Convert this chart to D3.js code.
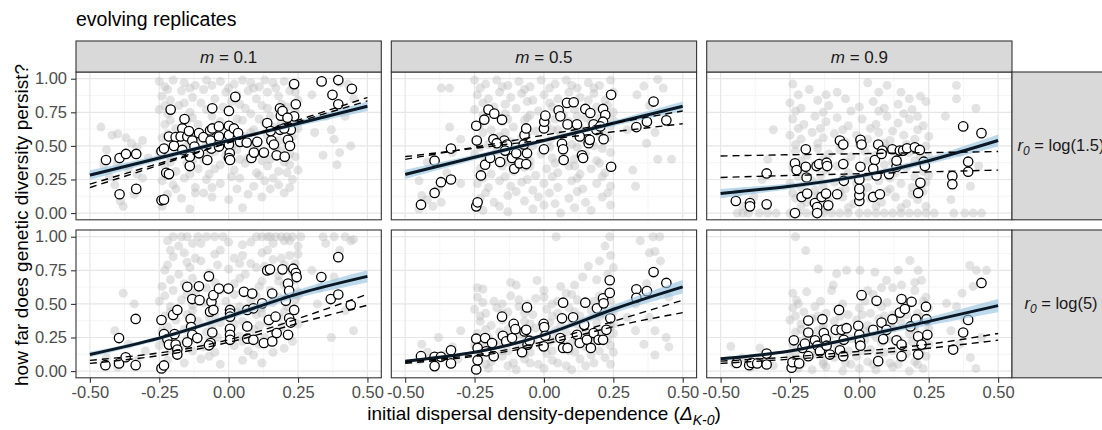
<!DOCTYPE html>
<html><head><meta charset="utf-8">
<script src="https://cdn.jsdelivr.net/npm/d3@7/dist/d3.min.js"></script>
<style>body{margin:0;background:#fff}</style>
</head><body>
<script>
// ---------- DATA ----------
const titleText = "evolving replicates";
const yTitle = "how far does genetic diversity persist?";
const xTitleMain = "initial dispersal density-dependence ";
const colLabels = ["0.1", "0.5", "0.9"];          // m
const rowLabels = ["log(1.5)", "log(5)"];          // r0
const xTicks = [-0.5, -0.25, 0, 0.25, 0.5];
const yTicks = [0, 0.25, 0.5, 0.75, 1];
const xMinor = [-0.375, -0.125, 0.125, 0.375];
const yMinor = [0.125, 0.375, 0.625, 0.875];
const fitX = [-0.5, -0.25, 0, 0.25, 0.5];

// fitted (solid) line, ribbon half-width, two dashed reference lines, per panel (row r, col m)
const fit_11 = [0.283, 0.41, 0.54, 0.667, 0.795];
const band_11 = [0.035, 0.02, 0.015, 0.02, 0.035];
const dashA_11 = [0.19, 0.357, 0.525, 0.692, 0.86];
const dashB_11 = [0.215, 0.37, 0.525, 0.68, 0.835];

const fit_12 = [0.288, 0.415, 0.54, 0.668, 0.795];
const band_12 = [0.035, 0.02, 0.015, 0.02, 0.035];
const dashA_12 = [0.40, 0.49, 0.58, 0.67, 0.76];
const dashB_12 = [0.42, 0.482, 0.545, 0.605, 0.665];

const fit_13 = [0.145, 0.20, 0.275, 0.39, 0.54];
const band_13 = [0.035, 0.02, 0.015, 0.025, 0.045];
const dashA_13 = [0.425, 0.434, 0.442, 0.45, 0.458];
const dashB_13 = [0.265, 0.28, 0.293, 0.307, 0.32];

const fit_21 = [0.123, 0.245, 0.405, 0.575, 0.705];
const band_21 = [0.02, 0.015, 0.02, 0.03, 0.045];
const dashA_21 = [0.08, 0.135, 0.233, 0.39, 0.572];
const dashB_21 = [0.057, 0.115, 0.214, 0.355, 0.49];

const fit_22 = [0.074, 0.14, 0.27, 0.46, 0.627];
const band_22 = [0.01, 0.01, 0.015, 0.03, 0.05];
const dashA_22 = [0.066, 0.12, 0.22, 0.37, 0.528];
const dashB_22 = [0.057, 0.11, 0.2, 0.33, 0.435];

const fit_23 = [0.091, 0.15, 0.255, 0.37, 0.487];
const band_23 = [0.012, 0.01, 0.015, 0.03, 0.05];
const dashA_23 = [0.074, 0.105, 0.147, 0.2, 0.28];
const dashB_23 = [0.057, 0.088, 0.123, 0.17, 0.23];

// open circles (evolving replicates)
const open_11 = [[-0.442,0.395],[-0.393,0.41],[-0.37,0.44],[-0.333,0.44],[-0.393,0.14],[-0.333,0.18],[-0.242,0.095],[-0.233,0.10],[-0.242,0.46],[-0.233,0.48],[-0.215,0.57],[-0.209,0.77],[-0.225,0.30],[-0.215,0.29],[-0.191,0.565],[-0.197,0.50],[-0.159,0.70],[-0.167,0.63],[-0.173,0.57],[-0.149,0.57],[-0.143,0.61],[-0.14,0.42],[-0.14,0.35],[-0.167,0.47],[-0.107,0.595],[-0.131,0.54],[-0.123,0.495],[-0.107,0.445],[-0.077,0.395],[-0.091,0.565],[-0.059,0.78],[-0.067,0.615],[-0.059,0.63],[-0.065,0.54],[-0.062,0.48],[-0.035,0.645],[-0.035,0.57],[-0.035,0.495],[0.001,0.76],[0.001,0.65],[0.001,0.58],[0.001,0.51],[0.004,0.445],[0.001,0.41],[0.005,0.395],[0.024,0.865],[0.019,0.63],[0.034,0.595],[0.041,0.53],[0.065,0.525],[0.082,0.41],[0.091,0.45],[0.127,0.45],[0.103,0.53],[0.139,0.67],[0.151,0.61],[0.154,0.54],[0.163,0.51],[0.173,0.43],[0.202,0.42],[0.185,0.78],[0.188,0.725],[0.194,0.76],[0.185,0.62],[0.214,0.545],[0.221,0.50],[0.224,0.62],[0.236,0.96],[0.242,0.81],[0.236,0.72],[0.212,0.71],[0.2,0.63],[0.335,0.98],[0.395,0.99],[0.374,0.88],[0.395,0.81],[0.444,0.925]];
const open_12 = [[-0.443,0.0625],[-0.394,0.15],[-0.371,0.23],[-0.335,0.25],[-0.394,0.39],[-0.335,0.48],[-0.244,0.05],[-0.239,0.08],[-0.242,0.54],[-0.244,0.65],[-0.215,0.695],[-0.2,0.77],[-0.179,0.74],[-0.151,0.695],[-0.227,0.28],[-0.212,0.36],[-0.194,0.41],[-0.182,0.55],[-0.158,0.38],[-0.143,0.54],[-0.133,0.51],[-0.115,0.41],[-0.107,0.33],[-0.088,0.37],[-0.064,0.365],[-0.061,0.445],[-0.073,0.51],[-0.07,0.58],[-0.064,0.63],[0.0,0.475],[0.0,0.63],[0.001,0.68],[0.005,0.725],[0.065,0.515],[0.069,0.475],[0.071,0.395],[0.053,0.765],[0.059,0.72],[0.083,0.82],[0.107,0.825],[0.085,0.66],[0.119,0.66],[0.129,0.57],[0.137,0.43],[0.141,0.41],[0.149,0.775],[0.167,0.745],[0.161,0.52],[0.165,0.545],[0.179,0.66],[0.189,0.62],[0.213,0.775],[0.221,0.73],[0.213,0.68],[0.215,0.55],[0.242,0.88],[0.242,0.345],[0.333,0.64],[0.371,0.68],[0.395,0.83],[0.441,0.69],[0.203,0.645],[-0.17,0.52],[-0.1,0.445],[-0.14,0.465]];
const open_13 = [[-0.445,0.09],[-0.394,0.075],[-0.394,0.05],[-0.334,0.065],[-0.334,0.295],[-0.232,0.0],[-0.232,0.37],[-0.226,0.32],[-0.193,0.475],[-0.193,0.345],[-0.208,0.12],[-0.188,0.145],[-0.19,0.265],[-0.16,0.075],[-0.152,0.045],[-0.152,0.0],[-0.136,0.12],[-0.12,0.145],[-0.112,0.0575],[-0.154,0.35],[-0.145,0.365],[-0.118,0.375],[-0.116,0.35],[-0.08,0.14],[-0.07,0.54],[-0.058,0.51],[-0.058,0.365],[-0.056,0.24],[0.0,0.09],[0.0,0.1325],[0.0,0.18],[0.0,0.25],[0.004,0.345],[0.004,0.545],[0.008,0.51],[0.05,0.12],[0.074,0.14],[0.062,0.28],[0.056,0.395],[0.068,0.51],[0.083,0.465],[0.107,0.29],[0.119,0.475],[0.134,0.345],[0.146,0.465],[0.158,0.465],[0.172,0.4825],[0.2,0.49],[0.218,0.47],[0.212,0.15],[0.22,0.225],[0.232,0.3825],[0.236,0.35],[0.335,0.275],[0.335,0.215],[0.392,0.3825],[0.392,0.3075],[0.374,0.645],[0.44,0.595],[0.134,0.39],[0.05,0.33],[0.08,0.44]];
const open_21 = [[-0.444,0.044],[-0.395,0.057],[-0.395,0.246],[-0.371,0.103],[-0.335,0.044],[-0.335,0.388],[-0.242,0.02],[-0.233,0.042],[-0.242,0.38],[-0.233,0.275],[-0.221,0.238],[-0.215,0.197],[-0.2,0.418],[-0.185,0.455],[-0.191,0.197],[-0.185,0.16],[-0.185,0.123],[-0.195,0.275],[-0.149,0.627],[-0.131,0.536],[-0.105,0.528],[-0.107,0.631],[-0.137,0.388],[-0.135,0.327],[-0.131,0.27],[-0.149,0.214],[-0.113,0.246],[-0.071,0.705],[-0.067,0.442],[-0.062,0.516],[-0.055,0.565],[-0.055,0.455],[-0.059,0.287],[-0.065,0.209],[-0.071,0.192],[-0.035,0.614],[0.005,0.455],[0.005,0.43],[0.005,0.405],[0.005,0.314],[0.005,0.27],[0.005,0.233],[-0.001,0.614],[0.055,0.59],[0.067,0.455],[0.067,0.332],[0.067,0.241],[0.085,0.577],[0.089,0.467],[0.089,0.233],[0.121,0.504],[0.127,0.209],[0.139,0.749],[0.149,0.757],[0.145,0.381],[0.157,0.577],[0.157,0.221],[0.169,0.405],[0.173,0.283],[0.194,0.757],[0.206,0.523],[0.214,0.651],[0.218,0.597],[0.218,0.393],[0.214,0.27],[0.233,0.762],[0.242,0.73],[0.245,0.7],[0.236,0.455],[0.224,0.361],[0.334,0.7],[0.368,0.536],[0.395,0.57],[0.395,0.848],[0.44,0.491]];
const open_22 = [[-0.443,0.111],[-0.394,0.106],[-0.394,0.037],[-0.371,0.106],[-0.335,0.155],[-0.335,0.057],[-0.244,0.012],[-0.239,0.081],[-0.244,0.241],[-0.239,0.172],[-0.212,0.246],[-0.208,0.147],[-0.181,0.111],[-0.187,0.209],[-0.151,0.405],[-0.148,0.263],[-0.136,0.221],[-0.115,0.246],[-0.109,0.351],[-0.103,0.312],[-0.079,0.14],[-0.07,0.295],[-0.064,0.307],[-0.061,0.474],[-0.059,0.197],[-0.052,0.226],[-0.001,0.351],[0.001,0.327],[0.005,0.263],[-0.001,0.184],[0.069,0.509],[0.065,0.393],[0.059,0.246],[0.069,0.172],[0.085,0.172],[0.105,0.4],[0.119,0.27],[0.129,0.209],[0.149,0.509],[0.145,0.344],[0.155,0.233],[0.169,0.172],[0.179,0.283],[0.191,0.467],[0.197,0.233],[0.213,0.541],[0.215,0.504],[0.213,0.233],[0.225,0.307],[0.237,0.676],[0.237,0.582],[0.239,0.393],[0.333,0.609],[0.333,0.545],[0.371,0.595],[0.395,0.737],[0.441,0.656]];
const open_23 = [[-0.442,0.061],[-0.397,0.044],[-0.388,0.061],[-0.368,0.057],[-0.334,0.049],[-0.334,0.13],[-0.244,0.025],[-0.241,0.066],[-0.236,0.229],[-0.217,0.057],[-0.205,0.172],[-0.196,0.204],[-0.184,0.111],[-0.184,0.287],[-0.184,0.376],[-0.16,0.229],[-0.151,0.189],[-0.142,0.147],[-0.133,0.386],[-0.128,0.283],[-0.121,0.238],[-0.118,0.189],[-0.106,0.123],[-0.085,0.307],[-0.073,0.455],[-0.07,0.155],[-0.064,0.307],[-0.058,0.111],[-0.056,0.233],[-0.046,0.319],[-0.004,0.337],[0.0,0.27],[0.002,0.221],[0.004,0.189],[0.008,0.565],[0.062,0.523],[0.05,0.307],[0.068,0.074],[0.08,0.361],[0.086,0.238],[0.119,0.386],[0.134,0.229],[0.146,0.435],[0.152,0.536],[0.152,0.197],[0.152,0.111],[0.164,0.462],[0.188,0.516],[0.204,0.386],[0.212,0.258],[0.212,0.123],[0.224,0.197],[0.24,0.479],[0.242,0.386],[0.245,0.27],[0.338,0.16],[0.374,0.287],[0.392,0.381],[0.44,0.656],[0.184,0.332],[0.098,0.307]];

// background (all replicates) grey points
const bg_11 = [[-0.46,0.64],[-0.42,0.58],[-0.40,0.59],[-0.37,0.56],[-0.35,0.52],[-0.33,0.49],[-0.31,0.54],[-0.44,0.47],[-0.40,0.37],[-0.38,0.43],[-0.36,0.33],[-0.43,0.27],[-0.41,0.21],[-0.39,0.09],[-0.38,0.05],[-0.34,0.14],[-0.31,0.26],[-0.29,0.41],[-0.45,0.36],[-0.33,0.29],
[-0.25,0.98],[-0.23,0.94],[-0.2,0.99],[-0.16,0.97],[-0.12,0.95],[-0.08,0.99],[-0.03,0.98],[0.02,0.96],[0.05,0.99],[0.08,0.97],[0.11,0.94],[0.13,0.99],[0.16,0.97],[0.2,0.98],[0.23,0.95],
[-0.24,0.87],[-0.21,0.84],[-0.17,0.91],[-0.13,0.86],[-0.09,0.92],[-0.05,0.85],[-0.01,0.9],[0.03,0.88],[0.07,0.91],[0.1,0.85],[0.14,0.9],[0.18,0.87],[0.22,0.91],[0.25,0.84],
[-0.25,0.77],[-0.22,0.74],[-0.18,0.8],[-0.14,0.75],[-0.1,0.82],[-0.06,0.72],[-0.02,0.79],[0.04,0.81],[0.08,0.74],[0.12,0.8],[0.15,0.72],[0.19,0.81],[0.24,0.76],
[-0.23,0.66],[-0.19,0.63],[-0.15,0.69],[-0.11,0.66],[-0.07,0.62],[-0.03,0.68],[0.01,0.64],[0.05,0.69],[0.09,0.62],[0.13,0.67],[0.17,0.64],[0.21,0.69],[0.25,0.63],
[-0.24,0.56],[-0.2,0.52],[-0.16,0.58],[-0.12,0.54],[-0.08,0.51],[-0.04,0.58],[0.0,0.55],[0.06,0.57],[0.1,0.52],[0.14,0.58],[0.18,0.54],[0.23,0.57],
[-0.25,0.45],[-0.21,0.41],[-0.17,0.47],[-0.13,0.43],[-0.09,0.4],[-0.05,0.46],[-0.01,0.43],[0.03,0.47],[0.07,0.41],[0.11,0.45],[0.15,0.4],[0.19,0.46],[0.24,0.42],
[-0.23,0.35],[-0.19,0.31],[-0.15,0.37],[-0.11,0.33],[-0.07,0.29],[-0.03,0.36],[0.02,0.32],[0.06,0.37],[0.1,0.3],[0.14,0.35],[0.18,0.31],[0.22,0.36],
[-0.24,0.24],[-0.2,0.21],[-0.16,0.26],[-0.12,0.19],[-0.08,0.25],[-0.03,0.22],[0.04,0.26],[0.09,0.2],[0.13,0.24],[0.18,0.21],[0.23,0.25],
[-0.22,0.14],[-0.17,0.11],[-0.12,0.15],[-0.06,0.12],[0.0,0.1],[0.07,0.14],[0.12,0.12],[0.2,0.15],
[-0.24,0.05],[-0.14,0.03],[0.05,0.04],
[0.33,0.98],[0.4,0.97],[0.43,0.96],[0.35,0.72],[0.38,0.55],[0.37,0.62],[0.4,0.45],[0.39,0.36],[0.45,0.85],[0.42,0.72],[0.31,0.6],[0.34,0.43],[0.3,0.88],[0.44,0.5]];
const bg2_11 = [[-0.22,0.92],[-0.14,0.93],[-0.06,0.95],[0.0,0.93],[0.09,0.93],[0.17,0.93],[0.24,0.9],
[-0.23,0.8],[-0.16,0.82],[-0.08,0.77],[0.01,0.83],[0.06,0.78],[0.14,0.78],[0.21,0.79],
[-0.21,0.69],[-0.13,0.71],[-0.05,0.65],[0.03,0.7],[0.11,0.7],[0.19,0.68],[0.24,0.7],
[-0.22,0.59],[-0.14,0.61],[-0.06,0.55],[0.02,0.6],[0.08,0.6],[0.16,0.61],[0.21,0.52],
[-0.23,0.49],[-0.15,0.5],[-0.07,0.44],[0.01,0.49],[0.09,0.48],[0.17,0.49],[0.22,0.44],
[-0.21,0.38],[-0.13,0.39],[-0.05,0.33],[0.04,0.4],[0.12,0.39],[0.2,0.38],[0.25,0.32],
[-0.22,0.28],[-0.14,0.29],[-0.06,0.19],[0.01,0.27],[0.11,0.28],[0.16,0.26],[0.21,0.3],
[-0.19,0.18],[-0.09,0.15],[0.03,0.18],[0.15,0.18],[0.22,0.19]];
const bg_12 = [[-0.45,0.03],[-0.42,0.1],[-0.4,0.05],[-0.38,0.18],[-0.35,0.3],[-0.33,0.45],[-0.3,0.55],[-0.42,0.38],[-0.37,0.08],[-0.45,0.24],[-0.37,0.93],[-0.34,0.93],[-0.34,0.64],[-0.3,0.22],[-0.44,0.13],
[-0.25,0.99],[-0.21,0.96],[-0.17,0.99],[-0.13,0.95],[-0.09,0.98],[-0.05,0.94],[-0.01,0.99],[0.04,0.96],[0.08,0.99],[0.12,0.93],[0.16,0.97],[0.2,0.95],[0.24,0.99],
[-0.24,0.88],[-0.2,0.85],[-0.16,0.9],[-0.12,0.86],[-0.08,0.89],[-0.04,0.84],[0.0,0.88],[0.05,0.85],[0.09,0.9],[0.13,0.86],[0.18,0.89],[0.22,0.84],
[-0.25,0.77],[-0.22,0.73],[-0.18,0.79],[-0.14,0.74],[-0.1,0.78],[-0.06,0.71],[-0.02,0.76],[0.03,0.79],[0.07,0.73],[0.11,0.77],[0.15,0.71],[0.19,0.79],[0.25,0.75],
[-0.23,0.66],[-0.19,0.62],[-0.15,0.68],[-0.11,0.64],[-0.07,0.69],[-0.03,0.61],[0.01,0.66],[0.05,0.62],[0.09,0.68],[0.13,0.63],[0.17,0.67],[0.21,0.61],[0.24,0.65],
[-0.24,0.55],[-0.2,0.51],[-0.16,0.57],[-0.12,0.53],[-0.08,0.56],[-0.04,0.5],[0.02,0.54],[0.06,0.58],[0.1,0.51],[0.14,0.55],[0.18,0.5],[0.23,0.56],
[-0.25,0.44],[-0.21,0.4],[-0.17,0.46],[-0.13,0.42],[-0.09,0.45],[-0.05,0.39],[-0.01,0.44],[0.03,0.41],[0.07,0.46],[0.11,0.4],[0.15,0.44],[0.19,0.39],[0.24,0.45],
[-0.23,0.33],[-0.19,0.29],[-0.15,0.35],[-0.11,0.31],[-0.07,0.34],[-0.03,0.28],[0.01,0.33],[0.05,0.3],[0.09,0.35],[0.13,0.29],[0.17,0.33],[0.22,0.3],
[-0.24,0.22],[-0.2,0.19],[-0.16,0.24],[-0.12,0.2],[-0.08,0.23],[-0.04,0.17],[0.0,0.22],[0.05,0.19],[0.1,0.24],[0.14,0.18],[0.19,0.22],[0.24,0.2],
[-0.23,0.11],[-0.18,0.08],[-0.13,0.13],[-0.07,0.09],[-0.02,0.12],[0.04,0.07],[0.09,0.11],[0.15,0.08],[0.21,0.12],
[-0.22,0.02],[-0.13,0.01],[-0.04,0.03],[0.06,0.0],[0.17,0.02],
[0.335,0.88],[0.36,0.945],[0.41,0.995],[0.43,0.93],[0.37,0.52],[0.41,0.4],[0.46,0.4],[0.32,0.32],[0.4,0.6],[0.38,0.8],[0.3,0.62],[0.44,0.7],[0.33,0.2]];
const bg2_12 = [[-0.23,0.93],[-0.15,0.94],[-0.07,0.92],[0.02,0.93],[0.1,0.95],[0.18,0.93],[0.25,0.9],
[-0.22,0.82],[-0.14,0.81],[-0.06,0.83],[0.02,0.82],[0.11,0.83],[0.16,0.84],[0.23,0.8],
[-0.21,0.7],[-0.13,0.7],[-0.05,0.73],[0.04,0.7],[0.12,0.72],[0.2,0.71],[0.25,0.69],
[-0.22,0.6],[-0.14,0.6],[-0.06,0.59],[0.03,0.62],[0.11,0.6],[0.2,0.59],
[-0.23,0.49],[-0.15,0.5],[-0.07,0.5],[0.02,0.49],[0.12,0.49],[0.21,0.48],
[-0.21,0.37],[-0.13,0.38],[-0.05,0.35],[0.04,0.37],[0.11,0.35],[0.2,0.37],
[-0.22,0.26],[-0.14,0.27],[-0.06,0.25],[0.03,0.27],[0.12,0.26],[0.21,0.27],
[-0.21,0.15],[-0.1,0.16],[0.02,0.15],[0.12,0.16],[0.23,0.15],
[-0.16,0.05],[0.0,0.06],[0.11,0.04],[0.24,0.06]];
const bg_13 = [[-0.44,0.0],[-0.4,0.0],[-0.36,0.0],[-0.33,0.0],[-0.25,0.0],[-0.22,0.0],[-0.19,0.0],[-0.16,0.0],[-0.13,0.0],[-0.1,0.0],[-0.07,0.0],[-0.04,0.0],[0.0,0.0],[0.03,0.0],[0.06,0.0],[0.09,0.0],[0.12,0.0],[0.15,0.0],[0.18,0.0],[0.21,0.0],[0.24,0.0],[0.34,0.0],[0.38,0.0],[0.41,0.0],
[-0.42,0.05],[-0.38,0.12],[-0.35,0.25],[-0.31,0.62],[-0.44,0.15],[-0.33,0.4],
[-0.24,0.96],[-0.18,0.92],[-0.08,0.9],[0.03,0.97],[0.1,0.95],[0.15,0.9],[0.22,0.87],
[-0.25,0.82],[-0.21,0.78],[-0.15,0.84],[-0.11,0.8],[-0.05,0.85],[0.0,0.79],[0.05,0.83],[0.09,0.78],[0.14,0.81],[0.19,0.77],[0.24,0.83],
[-0.24,0.7],[-0.2,0.66],[-0.16,0.72],[-0.12,0.68],[-0.08,0.71],[-0.04,0.65],[0.01,0.7],[0.06,0.66],[0.1,0.72],[0.14,0.67],[0.18,0.7],[0.23,0.65],
[-0.25,0.58],[-0.21,0.55],[-0.17,0.6],[-0.13,0.56],[-0.09,0.59],[-0.05,0.53],[-0.01,0.58],[0.03,0.55],[0.07,0.6],[0.11,0.54],[0.16,0.58],[0.2,0.55],[0.25,0.57],
[-0.23,0.46],[-0.19,0.43],[-0.15,0.48],[-0.11,0.44],[-0.07,0.47],[-0.03,0.42],[0.02,0.46],[0.06,0.43],[0.1,0.48],[0.14,0.42],[0.18,0.45],[0.22,0.42],
[-0.24,0.34],[-0.2,0.31],[-0.16,0.36],[-0.12,0.32],[-0.08,0.35],[-0.04,0.3],[0.0,0.34],[0.05,0.31],[0.09,0.36],[0.13,0.3],[0.17,0.34],[0.23,0.31],
[-0.25,0.22],[-0.21,0.19],[-0.17,0.24],[-0.13,0.2],[-0.09,0.23],[-0.05,0.18],[-0.01,0.22],[0.03,0.19],[0.07,0.24],[0.11,0.18],[0.15,0.22],[0.19,0.19],[0.24,0.23],
[-0.23,0.11],[-0.19,0.08],[-0.15,0.13],[-0.11,0.09],[-0.06,0.12],[-0.02,0.07],[0.04,0.11],[0.08,0.08],[0.13,0.12],[0.17,0.07],[0.21,0.1],
[0.35,0.85],[0.42,0.78],[0.38,0.65],[0.44,0.6],[0.36,0.45],[0.4,0.2],[0.33,0.1],[0.35,0.95],[0.31,0.72],[0.43,0.35]];
const bg2_13 = [[-0.22,0.88],[-0.12,0.88],[0.07,0.9],[0.18,0.85],
[-0.23,0.76],[-0.13,0.75],[-0.03,0.76],[0.07,0.76],[0.16,0.74],[0.21,0.72],
[-0.22,0.63],[-0.14,0.63],[-0.06,0.62],[0.04,0.63],[0.12,0.61],[0.21,0.62],
[-0.23,0.51],[-0.15,0.52],[-0.07,0.52],[0.0,0.51],[0.09,0.52],[0.17,0.51],[0.24,0.5],
[-0.21,0.39],[-0.13,0.4],[-0.05,0.38],[0.03,0.39],[0.12,0.38],[0.2,0.39],[0.25,0.42],
[-0.22,0.27],[-0.14,0.28],[-0.06,0.26],[0.03,0.27],[0.11,0.26],[0.2,0.27],[0.25,0.28],
[-0.24,0.15],[-0.16,0.17],[-0.07,0.16],[0.01,0.15],[0.1,0.16],[0.19,0.14],[0.23,0.16],
[-0.21,0.05],[-0.12,0.04],[-0.04,0.04],[0.06,0.05],[0.15,0.04],[0.24,0.05],
[-0.42,0.0],[-0.3,0.0],[0.27,0.0],[0.44,0.0]];
const bg_21 = [[-0.2,1.0],[-0.17,1.0],[-0.15,1.0],[-0.11,1.0],[-0.08,1.0],[-0.05,1.0],[0.1,1.0],[0.12,1.0],[0.14,1.0],[0.15,1.0],[0.17,1.0],[0.19,1.0],[0.21,1.0],[0.23,1.0],[0.26,1.0],[0.34,1.0],[0.38,1.0],[0.42,1.0],
[-0.18,0.93],[-0.13,0.95],[0.0,0.96],[0.05,0.94],[0.2,0.97],[0.25,0.93],[0.44,0.97],
[-0.2,0.85],[-0.16,0.88],[-0.1,0.82],[-0.05,0.87],[0.02,0.84],[0.08,0.8],[0.12,0.88],[0.16,0.83],[0.22,0.86],[0.24,0.8],
[-0.23,0.75],[-0.18,0.72],[-0.14,0.77],[-0.07,0.73],[0.0,0.76],[0.06,0.72],[0.1,0.77],[0.18,0.71],[0.23,0.74],
[-0.24,0.63],[-0.2,0.6],[-0.16,0.65],[-0.12,0.58],[-0.08,0.62],[-0.03,0.6],[0.02,0.65],[0.07,0.58],[0.11,0.63],[0.15,0.6],[0.2,0.64],[0.25,0.59],
[-0.25,0.52],[-0.21,0.48],[-0.17,0.53],[-0.13,0.49],[-0.09,0.51],[-0.05,0.47],[-0.01,0.52],[0.04,0.48],[0.08,0.53],[0.12,0.47],[0.16,0.51],[0.21,0.48],[0.24,0.53],
[-0.23,0.41],[-0.19,0.38],[-0.15,0.42],[-0.11,0.37],[-0.07,0.4],[-0.03,0.36],[0.01,0.41],[0.05,0.37],[0.1,0.42],[0.14,0.36],[0.18,0.4],[0.23,0.37],
[-0.24,0.3],[-0.2,0.27],[-0.16,0.31],[-0.12,0.26],[-0.08,0.29],[-0.04,0.25],[0.0,0.3],[0.04,0.26],[0.09,0.31],[0.13,0.25],[0.17,0.29],[0.22,0.26],
[-0.25,0.19],[-0.21,0.16],[-0.17,0.2],[-0.13,0.15],[-0.09,0.18],[-0.05,0.14],[0.02,0.19],[0.07,0.15],[0.11,0.2],[0.16,0.14],[0.2,0.17],
[-0.22,0.08],[-0.16,0.06],[-0.1,0.09],[-0.03,0.05],[0.05,0.08],[0.12,0.06],
[-0.38,0.58],[-0.34,0.5],[-0.41,0.3],[-0.44,0.1],[-0.36,0.2],[-0.4,0.03],[-0.3,0.15],[-0.33,0.08],[-0.45,0.06],
[0.35,0.95],[0.4,0.9],[0.45,0.98],[0.33,0.62],[0.42,0.45],[0.37,0.25],[0.45,0.3],[0.3,0.75],[0.38,0.7],[0.32,0.5]];
const bg2_21 = [[-0.22,0.97],[-0.1,0.95],[-0.02,1.0],[0.08,0.96],[0.16,0.95],[0.22,0.97],
[-0.21,0.9],[-0.12,0.84],[-0.03,0.9],[0.05,0.86],[0.14,0.9],[0.19,0.84],[0.25,0.87],
[-0.22,0.79],[-0.15,0.81],[-0.04,0.79],[0.04,0.8],[0.13,0.78],[0.2,0.79],
[-0.21,0.68],[-0.13,0.69],[-0.05,0.66],[0.04,0.69],[0.12,0.67],[0.18,0.67],[0.24,0.68],
[-0.23,0.56],[-0.15,0.57],[-0.06,0.55],[0.02,0.57],[0.1,0.56],[0.18,0.55],[0.25,0.56],
[-0.21,0.44],[-0.13,0.45],[-0.05,0.42],[0.03,0.44],[0.12,0.43],[0.2,0.44],
[-0.22,0.33],[-0.14,0.34],[-0.06,0.33],[0.02,0.35],[0.11,0.34],[0.19,0.33],[0.25,0.35],
[-0.23,0.23],[-0.15,0.24],[-0.07,0.22],[0.05,0.22],[0.14,0.21],[0.23,0.22],
[-0.19,0.12],[-0.07,0.11],[0.09,0.12]];
const bg_22 = [[0.044,1.0],[0.237,1.0],[0.347,0.97],[0.393,1.0],[0.417,1.0],[0.24,0.86],[0.38,0.88],[0.4,0.89],[0.2,0.82],[0.25,0.77],[0.14,0.7],[0.06,0.63],[-0.1,0.64],[-0.22,0.61],[-0.025,0.675],[0.08,0.58],[0.22,0.93],[0.16,0.78],[0.42,0.82],[0.45,0.55],[0.4,0.3],[0.33,0.5],[0.45,0.18],[0.37,0.65],[0.3,0.4],
[-0.24,0.55],[-0.18,0.52],[-0.12,0.56],[-0.06,0.5],[0.0,0.55],[0.05,0.52],[0.1,0.57],[0.15,0.51],[0.2,0.56],[0.24,0.52],
[-0.25,0.46],[-0.21,0.43],[-0.17,0.47],[-0.13,0.44],[-0.09,0.48],[-0.04,0.42],[0.01,0.46],[0.05,0.43],[0.09,0.47],[0.13,0.41],[0.17,0.45],[0.22,0.42],
[-0.23,0.37],[-0.19,0.34],[-0.15,0.38],[-0.11,0.33],[-0.07,0.37],[-0.03,0.32],[0.02,0.36],[0.06,0.33],[0.1,0.38],[0.14,0.32],[0.19,0.36],[0.24,0.33],
[-0.24,0.28],[-0.2,0.25],[-0.16,0.29],[-0.12,0.24],[-0.08,0.27],[-0.04,0.23],[0.0,0.28],[0.04,0.24],[0.08,0.29],[0.12,0.23],[0.16,0.27],[0.21,0.24],[0.25,0.28],
[-0.25,0.19],[-0.21,0.16],[-0.17,0.2],[-0.13,0.15],[-0.09,0.18],[-0.05,0.14],[-0.01,0.19],[0.03,0.15],[0.07,0.2],[0.11,0.14],[0.15,0.18],[0.2,0.15],[0.24,0.19],
[-0.23,0.1],[-0.19,0.07],[-0.15,0.11],[-0.11,0.06],[-0.07,0.09],[-0.02,0.05],[0.03,0.08],[0.08,0.04],[0.13,0.09],[0.18,0.06],[0.22,0.1],
[-0.2,0.02],[-0.1,0.01],[0.0,0.02],[0.1,0.01],
[-0.45,0.08],[-0.42,0.14],[-0.39,0.05],[-0.36,0.12],[-0.33,0.18],[-0.31,0.09],[-0.44,0.2],[-0.38,0.25],[-0.3,0.3],
[0.33,0.3],[0.36,0.2],[0.4,0.12],[0.44,0.25],[0.38,0.4]];
const bg2_22 = [[-0.22,0.51],[-0.15,0.5],[-0.09,0.53],[-0.03,0.54],[0.03,0.5],[0.12,0.53],[0.18,0.52],[0.23,0.58],
[-0.23,0.41],[-0.15,0.43],[-0.07,0.43],[0.03,0.41],[0.11,0.44],[0.2,0.41],[0.25,0.44],
[-0.21,0.31],[-0.13,0.31],[-0.05,0.35],[0.04,0.3],[0.12,0.35],[0.21,0.3],[0.25,0.35],
[-0.22,0.22],[-0.14,0.22],[-0.06,0.21],[0.02,0.22],[0.1,0.21],[0.18,0.22],[0.23,0.24],
[-0.23,0.14],[-0.15,0.15],[-0.07,0.13],[0.01,0.13],[0.09,0.15],[0.17,0.12],[0.25,0.14],
[-0.21,0.05],[-0.13,0.04],[-0.05,0.06],[0.05,0.06],[0.15,0.04],[0.24,0.05],
[-0.24,0.62],[-0.12,0.66],[0.0,0.6],[0.11,0.64],[0.19,0.68],[0.23,0.72]];
const bg_23 = [[-0.23,1.0],[-0.193,0.897],[-0.148,0.76],[-0.082,0.725],[-0.046,0.75],[0.002,0.75],[0.056,0.737],[0.098,0.676],[0.14,0.75],[0.182,0.823],[0.212,0.75],[0.224,0.676],[0.152,0.64],[0.314,0.504],[0.398,0.786],[0.422,0.75],[0.458,0.75],[0.35,0.48],[-0.463,0.184],[-0.358,0.172],[-0.094,0.64],[-0.19,0.59],[-0.226,0.528],[0.03,0.6],[0.08,0.62],[0.2,0.6],[0.24,0.55],[0.37,0.58],[0.41,0.63],
[-0.24,0.47],[-0.2,0.44],[-0.16,0.48],[-0.12,0.43],[-0.08,0.46],[-0.04,0.42],[0.0,0.47],[0.04,0.43],[0.08,0.48],[0.12,0.42],[0.16,0.46],[0.21,0.43],[0.25,0.47],
[-0.25,0.38],[-0.21,0.35],[-0.17,0.39],[-0.13,0.34],[-0.09,0.37],[-0.05,0.33],[-0.01,0.38],[0.03,0.34],[0.07,0.39],[0.11,0.33],[0.15,0.37],[0.2,0.34],[0.24,0.38],
[-0.23,0.29],[-0.19,0.26],[-0.15,0.3],[-0.11,0.25],[-0.07,0.28],[-0.03,0.24],[0.02,0.29],[0.06,0.25],[0.1,0.3],[0.14,0.24],[0.18,0.28],[0.22,0.25],
[-0.24,0.2],[-0.2,0.17],[-0.16,0.21],[-0.12,0.16],[-0.08,0.19],[-0.04,0.15],[0.0,0.2],[0.04,0.16],[0.08,0.21],[0.12,0.15],[0.16,0.19],[0.21,0.16],[0.25,0.2],
[-0.25,0.11],[-0.21,0.08],[-0.17,0.12],[-0.13,0.07],[-0.09,0.1],[-0.05,0.06],[-0.01,0.11],[0.03,0.07],[0.07,0.12],[0.11,0.06],[0.15,0.1],[0.2,0.07],[0.24,0.11],
[-0.22,0.02],[-0.17,0.01],[-0.12,0.03],[-0.06,0.0],[0.0,0.02],[0.06,0.01],[0.12,0.03],[0.18,0.0],[0.23,0.02],
[-0.45,0.05],[-0.42,0.1],[-0.39,0.03],[-0.36,0.08],[-0.33,0.12],[-0.31,0.04],
[0.33,0.3],[0.36,0.2],[0.4,0.1],[0.44,0.25],[0.38,0.38],[0.42,0.02]];
const bg2_23 = [[-0.22,0.5],[-0.14,0.52],[-0.06,0.5],[0.02,0.52],[0.1,0.51],[0.18,0.5],[0.23,0.52],
[-0.23,0.41],[-0.15,0.41],[-0.07,0.41],[0.01,0.42],[0.09,0.41],[0.17,0.42],[0.22,0.4],
[-0.21,0.31],[-0.13,0.31],[-0.05,0.3],[0.04,0.31],[0.12,0.32],[0.2,0.3],[0.25,0.32],
[-0.22,0.22],[-0.14,0.23],[-0.06,0.22],[0.02,0.23],[0.1,0.24],[0.19,0.22],[0.23,0.24],
[-0.23,0.14],[-0.15,0.14],[-0.07,0.14],[0.01,0.15],[0.09,0.14],[0.17,0.13],[0.22,0.14],
[-0.21,0.05],[-0.13,0.05],[-0.03,0.05],[0.05,0.05],[0.14,0.05],[0.21,0.05],
[-0.24,0.58],[-0.1,0.6],[0.05,0.57],[0.12,0.62],[0.2,0.66]];

// ---------- LAYOUT ----------
const W = 1102, H = 430;
const colX = [76, 391.3, 706.7], pw = 305.3;
const rowTop = [72, 230], ph = 147.8;
const stripTop = 41, stripH = 31;
const stripRX = colX[2] + pw, stripRW = 98;
const FONT = "'Liberation Sans', Arial, Helvetica, sans-serif";

const panels = [
  {r:0,c:0,bg:bg_11.concat(bg2_11),open:open_11,fit:fit_11,band:band_11,dA:dashA_11,dB:dashB_11},
  {r:0,c:1,bg:bg_12.concat(bg2_12),open:open_12,fit:fit_12,band:band_12,dA:dashA_12,dB:dashB_12},
  {r:0,c:2,bg:bg_13.concat(bg2_13),open:open_13,fit:fit_13,band:band_13,dA:dashA_13,dB:dashB_13},
  {r:1,c:0,bg:bg_21.concat(bg2_21),open:open_21,fit:fit_21,band:band_21,dA:dashA_21,dB:dashB_21},
  {r:1,c:1,bg:bg_22.concat(bg2_22),open:open_22,fit:fit_22,band:band_22,dA:dashA_22,dB:dashB_22},
  {r:1,c:2,bg:bg_23.concat(bg2_23),open:open_23,fit:fit_23,band:band_23,dA:dashA_23,dB:dashB_23}
];

const svg = d3.select("body").append("svg")
  .attr("width", W).attr("height", H)
  .style("font-family", FONT);
svg.append("rect").attr("width", W).attr("height", H).attr("fill", "#fff");

const x = d3.scaleLinear().domain([-0.55, 0.55]).range([0, pw]);
const y = d3.scaleLinear().domain([-0.05, 1.05]).range([ph, 0]);
const fmt = d => d3.format(".2f")(d).replace("\u2212", "-");

const defs = svg.append("defs");
defs.append("clipPath").attr("id", "pclip").append("rect")
  .attr("width", pw).attr("height", ph);

panels.forEach(p => {
  const g = svg.append("g").attr("transform", `translate(${colX[p.c]},${rowTop[p.r]})`);
  g.append("rect").attr("width", pw).attr("height", ph).attr("fill", "#fff");
  const inner = g.append("g").attr("clip-path", "url(#pclip)");
  inner.selectAll(".mx").data(xMinor).join("line")
    .attr("x1", d => x(d)).attr("x2", d => x(d)).attr("y1", 0).attr("y2", ph)
    .attr("stroke", "#f2f2f2").attr("stroke-width", 0.8);
  inner.selectAll(".my").data(yMinor).join("line")
    .attr("y1", d => y(d)).attr("y2", d => y(d)).attr("x1", 0).attr("x2", pw)
    .attr("stroke", "#f2f2f2").attr("stroke-width", 0.8);
  inner.selectAll(".gx").data(xTicks).join("line")
    .attr("x1", d => x(d)).attr("x2", d => x(d)).attr("y1", 0).attr("y2", ph)
    .attr("stroke", "#e6e6e6").attr("stroke-width", 1.2);
  inner.selectAll(".gy").data(yTicks).join("line")
    .attr("y1", d => y(d)).attr("y2", d => y(d)).attr("x1", 0).attr("x2", pw)
    .attr("stroke", "#e6e6e6").attr("stroke-width", 1.2);
  inner.append("g").selectAll("circle").data(p.bg).join("circle")
    .attr("cx", d => x(d[0])).attr("cy", d => y(d[1])).attr("r", 4.5)
    .attr("fill", "#b8b8b8").attr("fill-opacity", 0.4);
  inner.append("g").selectAll("circle").data(p.open).join("circle")
    .attr("cx", d => x(d[0])).attr("cy", d => y(d[1])).attr("r", 4.7)
    .attr("fill", "#fff").attr("stroke", "#000").attr("stroke-width", 1.3);
  const rows = fitX.map((v, i) => ({x: v, f: p.fit[i], b: p.band[i], a: p.dA[i], d: p.dB[i]}));
  inner.append("path").datum(rows)
    .attr("d", d3.area().curve(d3.curveNatural)
      .x(d => x(d.x)).y0(d => y(d.f - d.b)).y1(d => y(d.f + d.b)))
    .attr("fill", "#8fc1e0").attr("fill-opacity", 0.6);
  inner.append("path").datum(rows)
    .attr("d", d3.line().curve(d3.curveNatural).x(d => x(d.x)).y(d => y(d.f)))
    .attr("fill", "none").attr("stroke", "#0b1826").attr("stroke-width", 3);
  ["a", "d"].forEach(k => {
    inner.append("path").datum(rows)
      .attr("d", d3.line().curve(d3.curveNatural).x(d => x(d.x)).y(d => y(d[k])))
      .attr("fill", "none").attr("stroke", "#000").attr("stroke-width", 1.4)
      .attr("stroke-dasharray", "7,5");
  });
  g.append("rect").attr("width", pw).attr("height", ph)
    .attr("fill", "none").attr("stroke", "#333").attr("stroke-width", 1.1);

  if (p.c === 0) {
    const ax = g.append("g").call(d3.axisLeft(y).tickValues(yTicks).tickFormat(fmt).tickSize(5).tickPadding(4));
    ax.select(".domain").remove();
    ax.selectAll("line").attr("stroke", "#333").attr("stroke-width", 1.1);
    ax.selectAll("text").attr("fill", "#4d4d4d").style("font-size", "16.5px").style("font-family", FONT);
  }
  if (p.r === 1) {
    const ax = g.append("g").attr("transform", `translate(0,${ph})`)
      .call(d3.axisBottom(x).tickValues(xTicks).tickFormat(fmt).tickSize(5).tickPadding(3));
    ax.select(".domain").remove();
    ax.selectAll("line").attr("stroke", "#333").attr("stroke-width", 1.1);
    ax.selectAll("text").attr("fill", "#4d4d4d").style("font-size", "16.5px").style("font-family", FONT);
  }
});

// top strips
colLabels.forEach((lab, c) => {
  svg.append("rect").attr("x", colX[c]).attr("y", stripTop).attr("width", pw).attr("height", stripH)
    .attr("fill", "#d9d9d9").attr("stroke", "#333").attr("stroke-width", 1.1);
  const t = svg.append("text").attr("x", colX[c] + pw / 2).attr("y", stripTop + stripH / 2 + 6)
    .attr("text-anchor", "middle").attr("fill", "#1a1a1a").style("font-size", "17px");
  t.append("tspan").attr("font-style", "italic").text("m");
  t.append("tspan").text(" = " + lab);
});

// right strips
rowLabels.forEach((lab, r) => {
  svg.append("rect").attr("x", stripRX).attr("y", rowTop[r]).attr("width", stripRW).attr("height", ph)
    .attr("fill", "#d9d9d9").attr("stroke", "#333").attr("stroke-width", 1.1);
  const t = svg.append("text").attr("x", stripRX + 49).attr("y", rowTop[r] + ph / 2 + 5)
    .attr("text-anchor", "middle").attr("fill", "#1a1a1a").style("font-size", "16.5px");
  t.append("tspan").attr("font-style", "italic").text("r");
  t.append("tspan").attr("font-style", "italic").attr("dy", 4).style("font-size", "12px").text("0");
  t.append("tspan").attr("dy", -4).text(" = " + lab);
});

// title
svg.append("text").attr("x", colX[0]).attr("y", 26).attr("fill", "#000")
  .style("font-size", "19.5px").text(titleText);

// y title
svg.append("text").attr("transform", `translate(28,${(rowTop[0] + rowTop[1] + ph) / 2}) rotate(-90)`)
  .attr("text-anchor", "middle").attr("fill", "#000").style("font-size", "19px").text(yTitle);

// x title
const xt = svg.append("text").attr("x", (colX[0] + colX[2] + pw) / 2).attr("y", 420)
  .attr("text-anchor", "middle").attr("fill", "#000").style("font-size", "19px");
xt.append("tspan").text(xTitleMain + "(");
xt.append("tspan").attr("font-style", "italic").text("\u0394");
xt.append("tspan").attr("font-style", "italic").attr("dy", 5).style("font-size", "14px").text("K-0");
xt.append("tspan").attr("dy", -5).text(")");
</script>
</body></html>
